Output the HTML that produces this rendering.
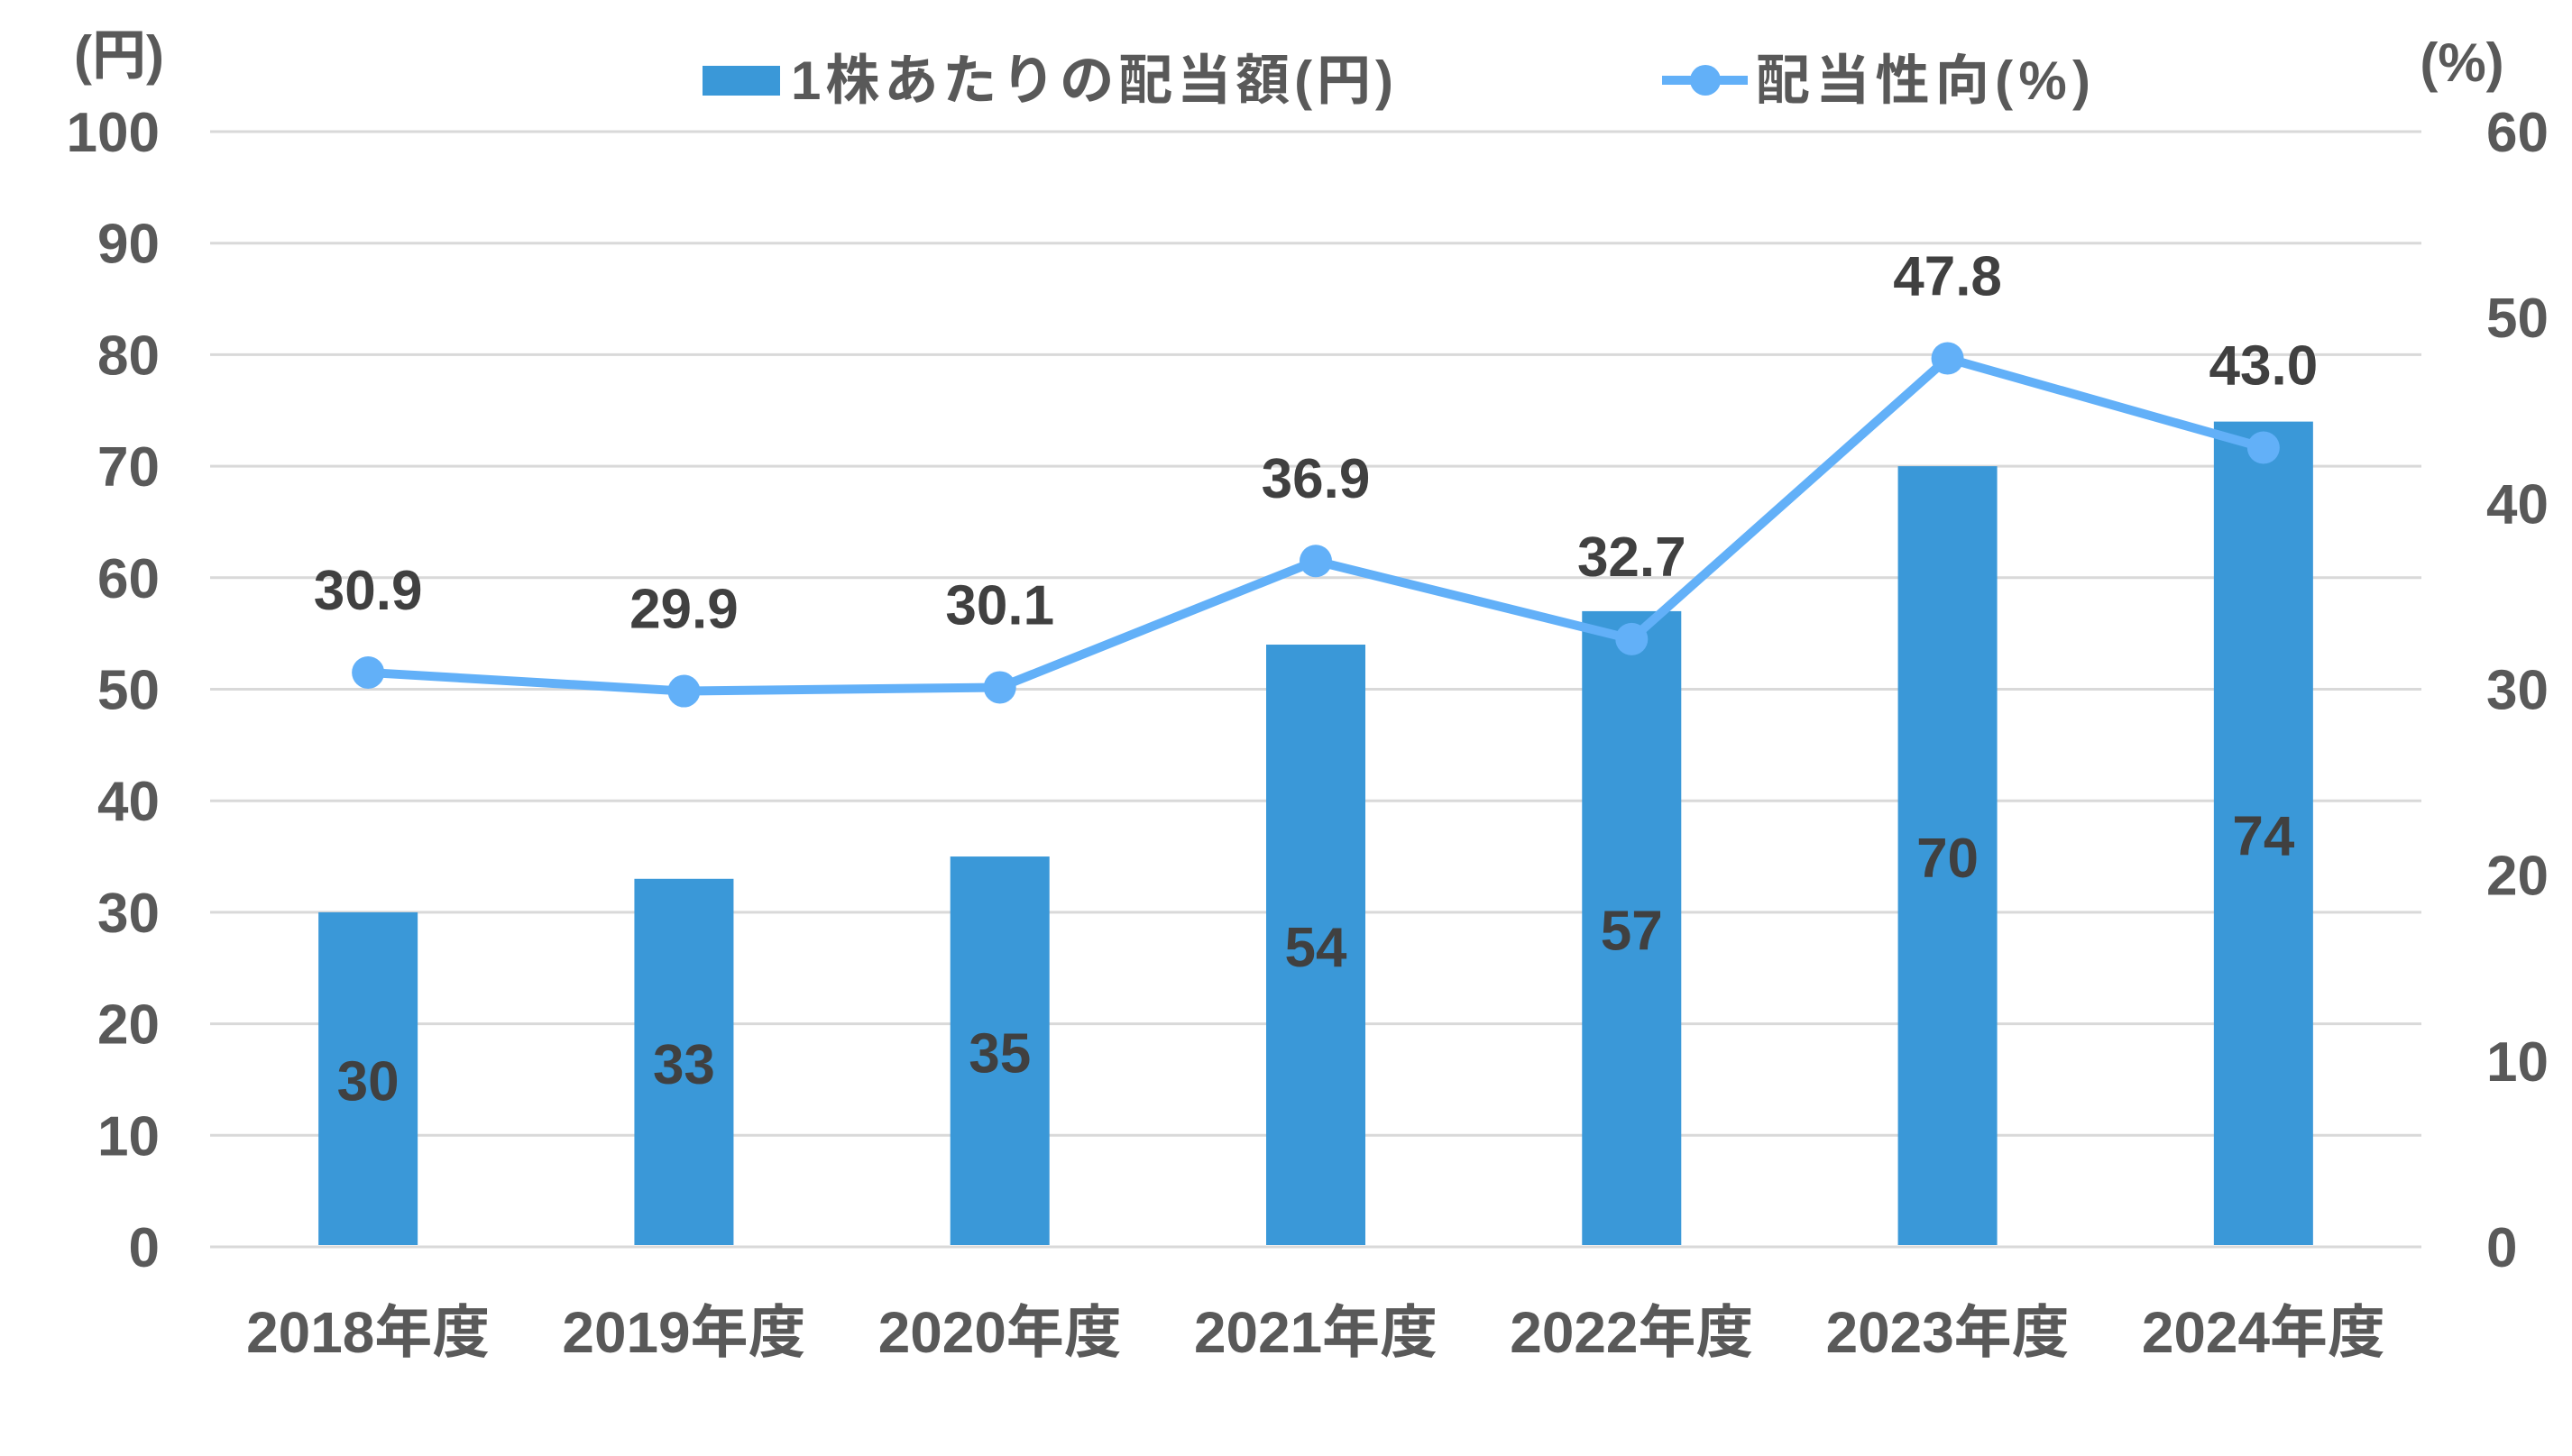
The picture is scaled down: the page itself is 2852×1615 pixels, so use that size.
<!DOCTYPE html>
<html><head><meta charset="utf-8"><style>
html,body{margin:0;padding:0;background:#fff;}
svg{display:block;font-family:"Liberation Sans","Noto Sans CJK JP",sans-serif;}
</style></head><body>
<svg id="chart" width="2852" height="1615" viewBox="0 0 2852 1615" xmlns="http://www.w3.org/2000/svg">
<g id="grid"></g>
<g id="yl"></g>
<g id="yr"></g>
<g id="bars"></g>
<g id="line"></g>
<g id="xl"></g>
<text x="132" y="82" font-size="60" fill="#595959" text-anchor="middle" font-weight="bold">(円)</text>
<text x="2730" y="90" font-size="60" fill="#595959" text-anchor="middle" font-weight="bold">(%)</text>
<g>
<rect x="779" y="73" width="86" height="33" fill="#3A98D8"/>
<text x="877" y="110" font-size="60" fill="#595959" font-weight="bold" textLength="668">1株あたりの配当額(円)</text>
<line x1="1843" y1="89" x2="1938" y2="89" stroke="#62B0F8" stroke-width="10"/>
<circle cx="1891" cy="89" r="17" fill="#62B0F8"/>
<text x="1947" y="110" font-size="60" fill="#595959" font-weight="bold" textLength="371">配当性向(%)</text>
</g>
</svg>
<script>
const categories=["2018年度","2019年度","2020年度","2021年度","2022年度","2023年度","2024年度"];
const dividends=[30,33,35,54,57,70,74];
const payout=[30.9,29.9,30.1,36.9,32.7,47.8,43.0];
const payoutLabels=["30.9","29.9","30.1","36.9","32.7","47.8","43.0"];
const leftTicks=[0,10,20,30,40,50,60,70,80,90,100];
const rightTicks=[0,10,20,30,40,50,60];
const NS="http://www.w3.org/2000/svg";
const X0=233,X1=2685,Y0=1383,Y1=146;
const bw=(X1-X0)/categories.length;
const xc=i=>X0+bw*(i+0.5);
const yL=v=>Y0-(v/100)*(Y0-Y1);
const yR=v=>Y0-(v/60)*(Y0-Y1);
function mk(tag,attrs,parent,txt){const e=document.createElementNS(NS,tag);for(const k in attrs)e.setAttribute(k,attrs[k]);if(txt!==undefined)e.textContent=txt;document.getElementById(parent).appendChild(e);return e;}
leftTicks.forEach(t=>{
  const g=mk('line',{x1:X0,x2:X1,y1:yL(t),y2:yL(t),stroke:'#d9d9d9','stroke-width':3},'grid');
  
  
  const l=mk('text',{x:177,y:yL(t)+22,'font-size':62,'font-weight':'bold',fill:'#595959','text-anchor':'end'},'yl',String(t));
  
  
});
rightTicks.forEach(t=>{
  const l=mk('text',{x:2757,y:yR(t)+22,'font-size':62,'font-weight':'bold',fill:'#595959'},'yr',String(t));
  
  
});
dividends.forEach((v,i)=>{
  const r=mk('rect',{x:xc(i)-55,y:yL(v),width:110,height:Y0-yL(v)-2,fill:'#3A98D8'},'bars');
  
  
  const t=mk('text',{x:xc(i),y:(yL(v)+Y0)/2+23,'font-size':62,'font-weight':'bold',fill:'#404040','text-anchor':'middle'},'bars',String(v));
  
  
});
const pts=payout.map((v,i)=>xc(i)+','+yR(v)).join(' ');
const pl=mk('polyline',{points:pts,fill:'none',stroke:'#62B0F8','stroke-width':10,'stroke-linejoin':'round'},'line');


payout.forEach((v,i)=>{
  const c=mk('circle',{cx:xc(i),cy:yR(v),r:18,fill:'#62B0F8'},'line');
  
  
  const t=mk('text',{x:xc(i),y:yR(v)-70,'font-size':62,'font-weight':'bold',fill:'#404040','text-anchor':'middle'},'line',payoutLabels[i]);
  
  
});
categories.forEach((c,i)=>{
  const t=mk('text',{x:xc(i),y:1500,'font-size':64,'font-weight':'bold',fill:'#595959','text-anchor':'middle',textLength:270,lengthAdjust:'spacingAndGlyphs'},'xl',c);
  
  
});
</script>
</body></html>
